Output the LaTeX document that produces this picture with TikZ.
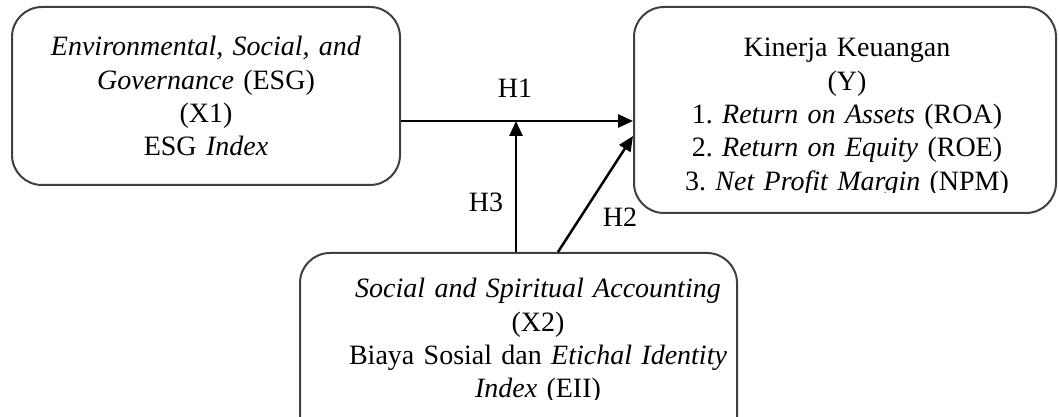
\documentclass[tikz,border=0pt]{standalone}
\usepackage{fontspec}
\setmainfont{Liberation Serif}
\usetikzlibrary{arrows.meta}
\frenchspacing
\lineskiplimit=-100pt
\begin{document}
\begin{tikzpicture}[x=1pt,y=1pt,
  box/.style={draw=black!75, line width=2pt, rounded corners=30pt, rectangle, inner sep=0pt},
  txt/.style={inner sep=0pt, align=center, anchor=base, font=\fontsize{28}{33.3}\selectfont},
  lbl/.style={inner sep=0pt, font=\fontsize{28}{33.3}\selectfont},
  arr/.style={line width=2.5pt, -{Triangle[length=15pt,width=13pt]}}]
\useasboundingbox (0,0) rectangle (1059,417);
\clip (0,0) rectangle (1059,417);
% boxes
\node[box, minimum width=388pt, minimum height=178pt] (x1) at (206,321) {};
\node[box, minimum width=422pt, minimum height=206pt] (y) at (845,307) {};
\node[box, minimum width=437pt, minimum height=200pt] (x2) at (518.5,64) {};
% texts
\node[txt, text width=380pt] (x1t) at (206,361) {\textit{Environmental, Social, and}\\\textit{Governance} (ESG)\\(X1)\\ESG \textit{Index}};
\begin{scope}
\clip (640,224) rectangle (1050,410);
\node[txt, text width=410pt] (yt) at (847,360) {Kinerja Keuangan\\(Y)\\1. \textit{Return on Assets} (ROA)\\2. \textit{Return on Equity} (ROE)\\3. \textit{Net Profit Margin} (NPM)};
\end{scope}
\begin{scope}
\clip (305,17) rectangle (735,160);
\node[txt, text width=420pt] (x2t) at (538,119) {\textit{Social and Spiritual Accounting}\\(X2)\\Biaya Sosial dan \textit{Etichal Identity}\\\textit{Index} (EII)};
\end{scope}
% connectors
\coordinate (h3) at (516,296);
\draw[arr] ([yshift=-25pt]x1.east) -- ([yshift=-25pt]x1.east -| y.west);
\draw[arr] (x2.north -| h3) -- (h3);
\draw[arr] ([xshift=39.5pt]x2.north) -- ([yshift=-26pt]y.west);
% labels
\node[lbl] (lh1) at (515,329) {H1};
\node[lbl] (lh3) at (486,215) {H3};
\node[lbl] (lh2) at (620,200) {H2};
\end{tikzpicture}
\end{document}
